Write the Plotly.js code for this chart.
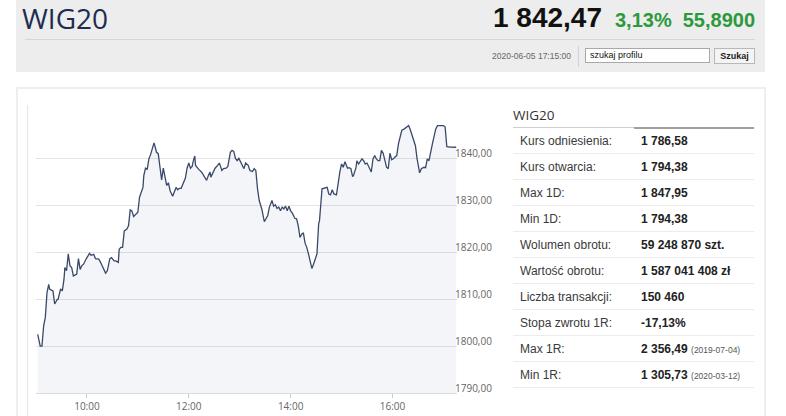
<!DOCTYPE html>
<html><head><meta charset="utf-8">
<script src="https://cdn.plot.ly/plotly-3.0.1.min.js"></script>
<style>
html,body{margin:0;padding:0;background:#fff;width:786px;height:416px;overflow:hidden;font-family:"Liberation Sans",Arial,sans-serif;}
.abs{position:absolute;}
.row{position:absolute;left:513px;width:241px;height:26px;border-bottom:1px solid #ececec;box-sizing:border-box;}
.row .l{position:absolute;left:7px;top:6px;font-size:12px;color:#3a3a3a;}
.row .v{position:absolute;left:128px;top:6px;font-size:12px;font-weight:bold;color:#222;}
.row .s{font-size:8.5px;font-weight:normal;color:#555;}
</style></head>
<body>
<!-- header -->
<div class="abs" style="left:16px;top:0;width:749px;height:72px;background:#ededed;"></div>
<div class="abs" style="left:22px;top:2px;font-family:'Open Sans';font-size:28px;line-height:32px;color:#1d2c50;">WIG20</div>
<div class="abs" style="right:31px;top:2px;font-size:28px;line-height:32px;white-space:nowrap;">
<span style="font-weight:bold;color:#111;">1 842,47</span><span style="font-weight:bold;color:#2c9a3c;font-size:20px;margin-left:13px;">3,13%</span><span style="font-weight:bold;color:#2c9a3c;font-size:20px;margin-left:11px;">55,8900</span>
</div>
<div class="abs" style="left:25px;top:39px;width:730px;height:1px;background:#d6d6d6;"></div>
<div class="abs" style="right:215px;top:51px;font-size:8.5px;color:#666;">2020-06-05 17:15:00</div>
<div class="abs" style="left:578px;top:46px;width:1px;height:21px;background:#d2d2d2;"></div>
<div class="abs" style="left:585px;top:48px;width:125px;height:15px;border:1px solid #a8a8a8;background:#fff;box-sizing:border-box;font-size:9px;line-height:13px;padding-left:4px;color:#111;">szukaj profilu</div>
<div class="abs" style="left:714px;top:48px;width:41px;height:16px;border:1px solid #b8b8b8;background:#f4f4f4;box-sizing:border-box;font-size:9px;font-weight:bold;line-height:14px;text-align:center;color:#222;">Szukaj</div>

<!-- chart box -->
<div class="abs" style="left:16px;top:87px;width:750px;height:345px;border:2px solid #eeeeee;box-sizing:border-box;"></div>
<div class="abs" style="left:27px;top:105px;width:1px;height:311px;background:#e6e6e6;"></div>

<!-- table -->
<div class="abs" style="left:513px;top:106px;font-size:13.5px;color:#333;font-family:'Open Sans';">WIG20</div>
<div class="abs" style="left:513px;top:127px;width:121px;height:1px;background:#cfcfcf;"></div>
<div class="abs" style="left:634px;top:127px;width:120px;height:2px;background:#a0a0a0;"></div>
<div id="tbl"></div>

<div id="chart" class="abs" style="left:0;top:80px;width:505px;height:336px;"></div>
<script>
const times = ["09:02","09:05","09:07","09:09","09:11","09:13","09:15","09:16","09:20","09:22","09:25","09:26","09:29","09:31","09:33","09:34","09:36","09:38","09:40","09:42","09:44","09:47","09:48","09:50","09:52","09:54","09:56","09:59",
"10:03","10:05","10:08","10:10","10:12","10:14","10:16","10:20","10:22","10:24","10:27","10:29","10:32","10:34","10:37","10:38","10:40","10:42","10:44","10:47","10:49","10:51","10:53","10:55","10:57",
"11:00","11:02","11:04","11:06","11:07","11:09","11:11","11:13","11:15","11:17","11:19","11:20","11:22","11:24","11:26","11:28","11:30","11:32","11:34","11:36","11:38","11:41","11:43","11:45","11:47","11:49","11:51","11:54","11:56","11:58",
"12:00","12:02","12:04","12:05","12:07","12:08","12:10","12:12","12:15","12:18","12:21","12:23","12:25","12:26","12:29","12:31","12:34","12:36","12:37","12:39","12:41","12:44","12:46","12:47","12:49","12:51","12:53","12:55","12:57","12:59",
"13:01","13:03","13:05","13:07","13:10","13:12","13:15","13:17","13:19","13:21","13:23","13:26","13:29","13:31","13:33","13:35","13:37","13:38","13:40","13:42","13:44","13:46","13:48","13:50","13:52","13:54","13:56","13:58",
"14:00","14:02","14:05","14:07","14:09","14:11","14:13","14:15","14:17","14:19","14:21","14:23","14:25","14:27","14:29","14:31","14:33","14:34","14:37","14:39","14:41","14:43","14:45","14:47","14:49","14:51","14:54","14:56","14:58",
"15:00","15:02","15:04","15:07","15:09","15:11","15:13","15:14","15:17","15:18","15:20","15:22","15:24","15:26","15:28","15:30","15:32","15:34","15:35","15:37","15:39","15:41","15:43","15:45","15:47","15:49","15:51","15:53","15:55","15:57","15:59",
"16:01","16:03","16:05","16:07","16:09","16:11","16:14","16:17","16:19","16:21","16:24","16:27","16:29","16:30","16:32","16:34","16:37","16:39","16:41","16:43","16:45","16:47","16:49","16:51","16:53","16:57",
"17:00","17:02","17:04","17:08","17:15"];
const values = [1802.5,1800.0,1800.0,1804.3,1806.2,1811.5,1813.2,1812.2,1811.8,1809.0,1810.0,1810.0,1812.2,1811.8,1814.3,1816.8,1816.1,1819.7,1817.2,1816.8,1815.0,1815.4,1815.4,1818.7,1816.4,1817.2,1817.5,1818.6,
1819.8,1819.4,1819.6,1818.7,1818.6,1818.6,1817.9,1816.1,1815.6,1816.1,1818.7,1818.9,1818.2,1818.2,1817.9,1820.7,1821.1,1821.1,1824.6,1825.0,1825.7,1829.1,1828.9,1827.7,1828.0,
1828.6,1831.8,1832.9,1833.9,1836.4,1838.0,1837.7,1840.0,1840.9,1842.1,1843.4,1842.8,1841.4,1841.1,1837.9,1835.5,1838.0,1836.4,1834.3,1834.9,1833.2,1832.0,1833.2,1833.9,1833.4,1833.7,1833.7,1835.0,1835.9,1838.0,
1839.1,1838.0,1838.4,1839.3,1840.6,1838.6,1838.0,1837.7,1837.2,1836.3,1835.4,1836.4,1837.2,1836.1,1837.3,1838.0,1838.6,1839.1,1838.6,1837.5,1837.9,1838.0,1838.4,1839.3,1841.4,1841.8,1841.6,1840.1,1839.6,1840.1,
1839.4,1838.6,1837.9,1839.1,1838.6,1837.5,1837.3,1837.9,1837.5,1833.6,1831.1,1829.3,1826.6,1827.2,1827.9,1829.7,1830.9,1831.1,1829.9,1830.2,1829.4,1829.7,1828.9,1829.7,1829.3,1829.9,1828.9,1829.9,
1828.9,1828.4,1827.3,1827.2,1825.7,1823.2,1823.9,1824.2,1822.0,1821.1,1819.7,1817.9,1816.6,1817.5,1818.6,1819.7,1826.1,1826.8,1833.6,1833.7,1833.7,1833.9,1832.5,1832.3,1833.4,1832.5,1832.3,1835.0,1837.2,
1838.9,1838.2,1839.4,1838.0,1838.1,1837.9,1836.2,1836.4,1838.1,1839.6,1838.9,1839.6,1840.0,1839.6,1838.9,1839.1,1838.2,1837.4,1837.2,1840.0,1840.7,1840.0,1839.6,1839.6,1841.8,1841.2,1839.6,1838.2,1837.9,1841.2,1839.8,
1840.0,1840.4,1840.7,1843.2,1844.6,1846.1,1846.4,1846.8,1847.1,1846.2,1844.6,1842.8,1840.0,1838.6,1837.0,1837.9,1838.2,1838.1,1840.0,1839.6,1841.8,1843.2,1844.8,1846.4,1847.1,1847.1,
1847.1,1846.8,1842.6,1842.5,1842.47];
const tradeDate = "2020-06-05";
const yTickVals = [1790,1800,1810,1820,1830,1840,1850];
const yTickText = ["1790,00","1800,00","1810,00","1820,00","1830,00","1840,00",""];
const tableLabels = ["Kurs odniesienia:","Kurs otwarcia:","Max 1D:","Min 1D:","Wolumen obrotu:","Wartość obrotu:","Liczba transakcji:","Stopa zwrotu 1R:","Max 1R:","Min 1R:"];
const tableValues = ["1 786,58","1 794,38","1 847,95","1 794,38","59 248 870 szt.","1 587 041 408 zł","150 460","-17,13%","2 356,49","1 305,73"];
const tableNotes = ["","","","","","","","","(2019-07-04)","(2020-03-12)"];

// table
const tbl = document.getElementById('tbl');
tableLabels.forEach((lab, i) => {
  const r = document.createElement('div');
  r.className = 'row';
  r.style.top = (128 + 26 * i) + 'px';
  const note = tableNotes[i] ? ' <span class="s">' + tableNotes[i] + '</span>' : '';
  r.innerHTML = '<span class="l">' + lab + '</span><span class="v">' + tableValues[i] + note + '</span>';
  tbl.appendChild(r);
});

const x = times.map(t => tradeDate + ' ' + t);
Plotly.newPlot('chart', [{
  x: x, y: values, type: 'scatter', mode: 'lines',
  line: {color: '#3b4968', width: 1.3},
  fill: 'tozeroy', fillcolor: 'rgba(72,88,155,0.06)',
  hoverinfo: 'skip'
}], {
  width: 505, height: 336,
  margin: {l: 36, r: 48, t: 32, b: 23, pad: 0},
  paper_bgcolor: 'rgba(0,0,0,0)', plot_bgcolor: '#ffffff',
  showlegend: false,
  font: {family: 'Open Sans', size: 10, color: '#666'},
  xaxis: {
    type: 'date', range: [tradeDate + ' 09:00', tradeDate + ' 17:16'],
    tick0: tradeDate + ' 10:00', dtick: 7200000, tickformat: '%H:%M',
    showgrid: false, zeroline: false,
    showline: true, linecolor: '#dcdcdc', linewidth: 1,
    ticks: 'outside', ticklen: 4, tickcolor: '#cccccc',
    tickfont: {family: 'Open Sans', size: 10, color: '#666'}
  },
  yaxis: {
    side: 'right', range: [1790, 1850],
    tickmode: 'array', tickvals: yTickVals, ticktext: yTickText,
    showgrid: true, gridcolor: '#e4e4e4', gridwidth: 1, zeroline: false,
    showline: false, ticks: '',
    ticklabelshift: -5, ticklabelstandoff: -3,
    tickfont: {family: 'Open Sans', size: 10, color: '#666'}
  }
}, {staticPlot: true, displayModeBar: false});
</script>
</body></html>
